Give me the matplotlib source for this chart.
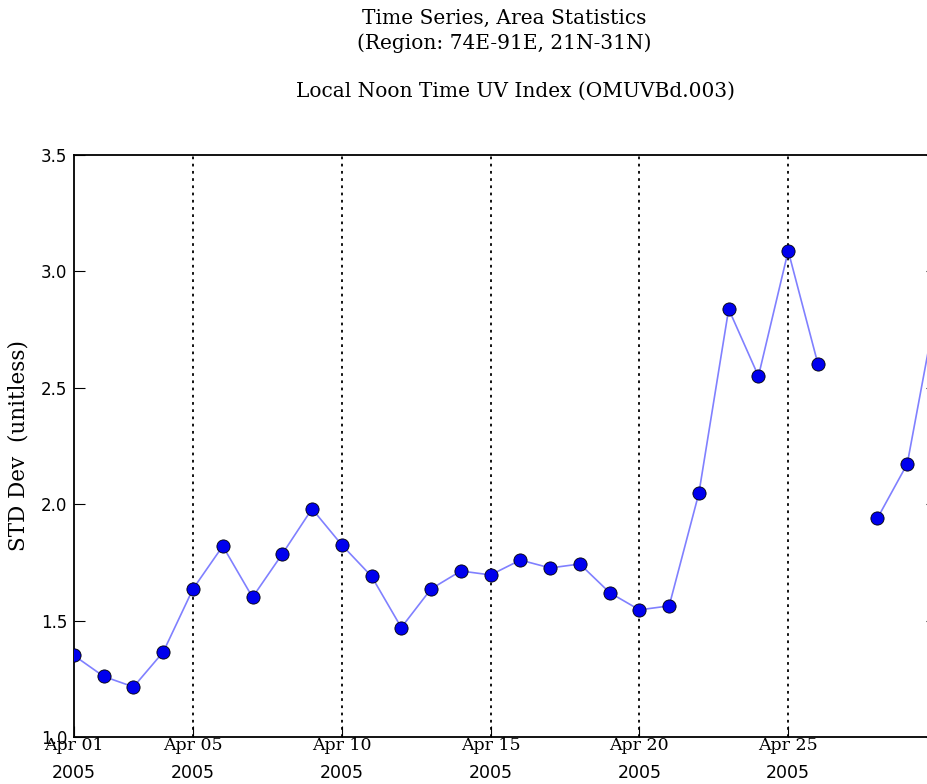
import numpy as np
import pandas as pd
import matplotlib
matplotlib.use('Agg')
import matplotlib.pyplot as plt
import matplotlib.dates as mdates
import matplotlib.transforms as mtransforms

# daily area std dev of noon UV index, April 2005 (Apr 27 missing)
days = list(range(1, 31))
std_dev = [1.35, 1.26, 1.215, 1.365, 1.636, 1.82, 1.60, 1.786, 1.98, 1.825,
           1.69, 1.47, 1.636, 1.713, 1.696, 1.76, 1.726, 1.743, 1.62, 1.546,
           1.563, 2.048, 2.838, 2.55, 3.088, 2.602, np.nan, 1.94, 2.173, 2.86]
tick_days = [1, 5, 10, 15, 20, 25]
y_ticks = [1.0, 1.5, 2.0, 2.5, 3.0, 3.5]

dates = pd.to_datetime(['2005-04-%02d' % d for d in days])
tick_dates = pd.to_datetime(['2005-04-%02d' % d for d in tick_days])

serif = 'DejaVu Serif'
sans = 'DejaVu Sans'

fig = plt.figure(figsize=(9.28, 7.84), dpi=100)
ax = fig.add_axes([0.0797, 0.06, 0.930, 0.7423])

ax.plot(dates, std_dev, '-', color='#8080ff', lw=1.2, zorder=3)
ax.plot(dates, std_dev, 'o', color='#0000ee', ms=9.5, mec='black', mew=0.6, zorder=4)

ax.set_xlim(dates[0], dates[-1])
ax.set_ylim(1.0, 3.5)

ax.set_yticks(y_ticks)
ax.set_yticklabels(['%.1f' % v for v in y_ticks], family=sans, fontsize=12)
ax.tick_params(axis='y', which='both', direction='in', length=8, right=True, pad=5)

ax.set_xticks(tick_dates)
ax.set_xticklabels([d.strftime('%b %d') for d in tick_dates], family=serif, fontsize=12.5)
ax.tick_params(axis='x', direction='in', length=8, pad=0, top=False)

# year under each date label
trans = mtransforms.blended_transform_factory(ax.transData, ax.transAxes)
for d in tick_dates:
    ax.text(mdates.date2num(d), -0.062, d.strftime('%Y'), transform=trans,
            ha='center', va='center', family=sans, fontsize=12.5)

# dotted vertical guides at the labelled dates
for d in tick_dates[1:]:
    ax.axvline(d, color='black', ls=(0, (1.5, 2.5)), lw=1.3, zorder=2)

for sp in ax.spines.values():
    sp.set_linewidth(1.3)

ax.set_ylabel('STD Dev  (unitless)', family=serif, fontsize=15.5, labelpad=8)

fig.text(0.543, 0.977, 'Time Series, Area Statistics', ha='center', va='center',
         family=serif, fontsize=14.5)
fig.text(0.543, 0.945, '(Region: 74E-91E, 21N-31N)', ha='center', va='center',
         family=serif, fontsize=14.5)
fig.text(0.556, 0.883, 'Local Noon Time UV Index (OMUVBd.003)', ha='center', va='center',
         family=serif, fontsize=14.5)

fig.savefig('out.png', dpi=100)
